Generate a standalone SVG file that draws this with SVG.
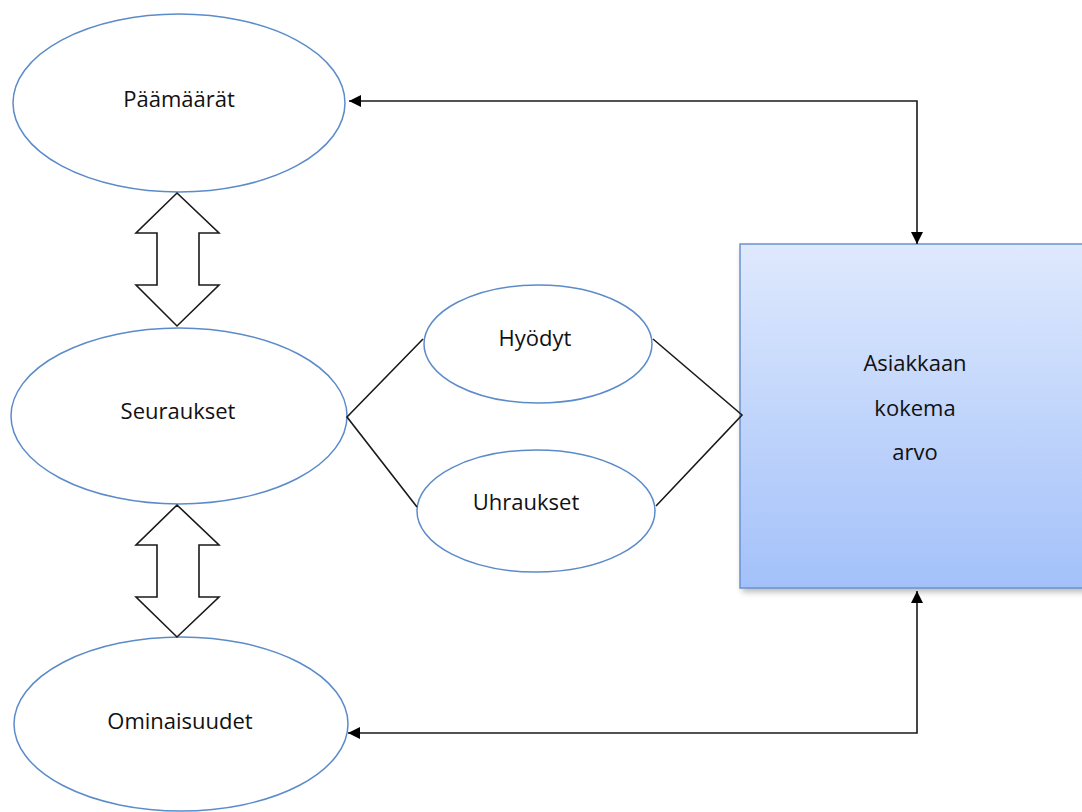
<svg xmlns="http://www.w3.org/2000/svg" width="1082" height="812" viewBox="0 0 1082 812">
<style>
.ell{fill:#fff;stroke:#5b8bc9;stroke-width:1.5}
.lbl{font-family:"Open Sans","Noto Sans","DejaVu Sans",sans-serif;font-size:22px;fill:#111;text-anchor:middle}
.con{fill:none;stroke:#1a1a1a;stroke-width:1.6}
.dbl{fill:#fff;stroke:#1a1a1a;stroke-width:1.6;stroke-linejoin:miter}
</style>
<defs>
<linearGradient id="g" x1="0" y1="0" x2="0" y2="1">
<stop offset="0" stop-color="#dfe9fd"/>
<stop offset="1" stop-color="#a3c1f9"/>
</linearGradient>
<filter id="sh" x="-10%" y="-10%" width="120%" height="130%">
<feGaussianBlur stdDeviation="3"/>
</filter>
<marker id="ah" viewBox="0 0 10 10" refX="10" refY="5" markerWidth="12" markerHeight="12" markerUnits="userSpaceOnUse" orient="auto-start-reverse">
<path d="M0,0 L10,5 L0,10 Z" fill="#000"/>
</marker>
</defs>
<rect width="1082" height="812" fill="#fff"/>

<g id="paamaarat">
<ellipse class="ell" cx="179" cy="103" rx="166" ry="89"/>
<text class="lbl" x="179" y="107">Päämäärät</text>
</g>
<g id="seuraukset">
<ellipse class="ell" cx="179" cy="416" rx="168" ry="88"/>
<text class="lbl" x="178" y="419">Seuraukset</text>
</g>
<g id="ominaisuudet">
<ellipse class="ell" cx="181" cy="724" rx="167" ry="87"/>
<text class="lbl" x="180" y="729">Ominaisuudet</text>
</g>
<g id="hyodyt">
<ellipse class="ell" cx="538" cy="344" rx="114" ry="59"/>
<text class="lbl" x="535" y="346">Hyödyt</text>
</g>
<g id="uhraukset">
<ellipse class="ell" cx="536" cy="511" rx="119" ry="61"/>
<text class="lbl" x="526" y="510">Uhraukset</text>
</g>
<g id="asiakkaan-kokema-arvo">
<rect x="742" y="248" width="350" height="344" fill="#888" opacity="0.6" filter="url(#sh)"/>
<rect x="740" y="244" width="350" height="344" fill="url(#g)" stroke="#6b93cc" stroke-width="1.5"/>
<text class="lbl" x="915" y="371">Asiakkaan</text>
<text class="lbl" x="915" y="416">kokema</text>
<text class="lbl" x="915" y="460">arvo</text>
</g>

<g id="connectors">
<polygon class="dbl" points="177,193 219,233 199,233 199,285 219,285 177,326 136,285 157,285 157,233 136,233"/>
<polygon class="dbl" points="177,505 219,545 199,545 199,597 219,597 177,637 136,597 157,597 157,545 136,545"/>
<polyline class="con" points="423,339 347,417 417,507"/>
<polyline class="con" points="653,339 742,415 656,506"/>
<polyline class="con" points="349,101 917,101 917,244" marker-start="url(#ah)" marker-end="url(#ah)"/>
<polyline class="con" points="917,591 917,733 348,733" marker-start="url(#ah)" marker-end="url(#ah)"/>
</g>
</svg>
